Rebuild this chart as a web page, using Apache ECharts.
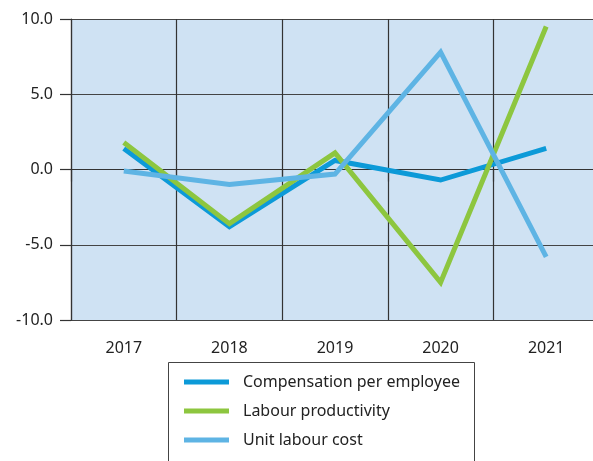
<!DOCTYPE html>
<html><head><meta charset="utf-8">
<script src="https://cdn.jsdelivr.net/npm/echarts@6/dist/echarts.min.js"></script>
<style>html,body{margin:0;padding:0;background:#fff}#c{width:593px;height:461px}</style>
</head><body><div id="c"></div>
<script>
var years = ['2017','2018','2019','2020','2021'];
var compensation = [1.4, -3.8, 0.6, -0.7, 1.4];
var productivity = [1.8, -3.6, 1.1, -7.5, 9.5];
var unitLabourCost = [-0.1, -1.0, -0.3, 7.8, -5.8];
var seriesNames = ['Compensation per employee', 'Labour productivity', 'Unit labour cost'];
var colors = ['#0c9ad8', '#8dc63f', '#5eb4e4'];

var chart = echarts.init(document.getElementById('c'), null, {renderer:'canvas'});
var font = 'Noto Sans';
function mk(i, data){
  return {name: seriesNames[i], type:'line', data:data, showSymbol:false, symbol:'none',
    lineStyle:{width:5, color:colors[i], cap:'butt', join:'miter'}, itemStyle:{color:colors[i]}, z:2+i, silent:true, animation:false};
}
chart.setOption({
  animation:false,
  grid:{left:71, width:528, top:19, height:301, outerBoundsMode:'none', containLabel:false, show:true, backgroundColor:'#cfe2f3', borderWidth:0},
  graphic:[{type:'rect', left:168, top:362, shape:{width:306, height:110}, style:{fill:'#fff', stroke:'#444', lineWidth:1}, z:-1}],
  xAxis:{type:'category', data:years, boundaryGap:true,
    axisLine:{show:true, lineStyle:{color:'#333', width:1.2}},
    axisTick:{show:true, length:12, lineStyle:{color:'#333', width:1.2}},
    axisLabel:{fontFamily:font, fontSize:16, color:'#222', margin:20},
    splitLine:{show:true, lineStyle:{color:'#333', width:1.2}}},
  yAxis:{type:'value', min:-10, max:10, interval:5,
    axisLine:{show:true, lineStyle:{color:'#333', width:1.2}},
    axisTick:{show:true, length:11, lineStyle:{color:'#333', width:1.2}},
    axisLabel:{fontFamily:font, fontSize:16, color:'#222', margin:18, formatter:function(v){return v.toFixed(1);}},
    splitLine:{show:true, lineStyle:{color:'#444', width:1.2}}},
  legend:{orient:'vertical', left:168, top:362, data:seriesNames, icon:'rect', itemWidth:45, itemHeight:5, itemGap:9,
    borderWidth:0, padding:[10,13,0,16],
    textStyle:{fontFamily:font, fontSize:16, color:'#222', padding:[0,0,0,9], lineHeight:20}},
  series:[mk(0, compensation), mk(1, productivity), mk(2, unitLabourCost)]
});
</script></body></html>
